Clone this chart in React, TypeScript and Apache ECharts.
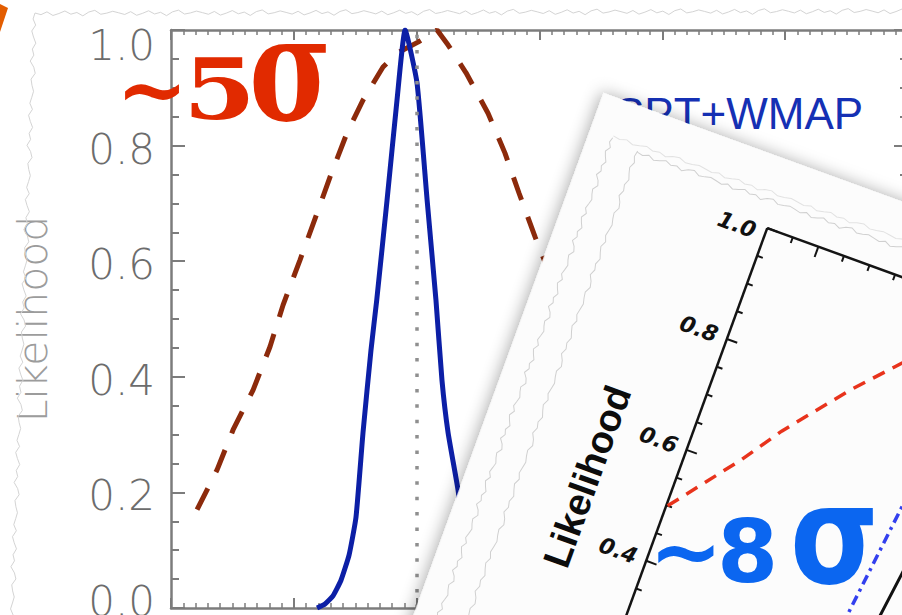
import React, { useEffect, useRef } from "react";
import * as echarts from "echarts";

// Main panel: SPT+WMAP likelihood (solid) and the broader constraint (dashed)
const sptWmapX = [1.189, 1.254, 1.319, 1.384, 1.45, 1.506, 1.563, 1.628, 1.675, 1.759, 1.84, 1.906, 2.003, 2.085, 2.157, 2.206, 2.256, 2.337, 2.4, 2.47, 2.56, 2.68];
const sptWmapY = [0, 0.007, 0.021, 0.048, 0.092, 0.157, 0.303, 0.446, 0.533, 0.706, 0.879, 1.0, 0.908, 0.706, 0.533, 0.394, 0.303, 0.204, 0.1, 0.035, 0.008, 0];

const broadX = [0.212, 0.375, 0.505, 0.668, 0.806, 0.912, 1.05, 1.189, 1.295, 1.433, 1.564, 1.726, 1.84, 2.011, 2.166, 2.256, 2.402, 2.581, 2.719, 2.833, 2.964, 3.167, 3.49];
const broadY = [0.17, 0.239, 0.308, 0.377, 0.452, 0.524, 0.602, 0.683, 0.746, 0.822, 0.879, 0.936, 0.96, 0.979, 1.0, 0.974, 0.926, 0.856, 0.787, 0.718, 0.642, 0.533, 0.36];

const referenceX = 2.0;

// Inset panel curves
const insetRedX = [-0.39, 0.0, 0.21, 0.58, 0.87, 1.3, 1.8];
const insetRedY = [0.5, 0.615, 0.685, 0.79, 0.863, 0.94, 0.99];
const insetBlueX = [0.95, 1.126, 1.228, 1.33, 1.45, 1.6];
const insetBlueY = [0.18, 0.43, 0.628, 0.8, 0.93, 1.0];
const insetBlackX = [1.25, 1.354, 1.4, 1.48, 1.6];
const insetBlackY = [0.25, 0.449, 0.529, 0.68, 0.85];

// Inset axes
const INSET_X_MIN = -0.4;
const INSET_X_MAX = 4;
const insetXMajor = [0, 1, 2, 3];
const insetXMinor = [-0.2, 0.2, 0.4, 0.6, 0.8, 1.2, 1.4, 1.6, 1.8, 2.2, 2.4, 2.6, 2.8, 3.2, 3.4, 3.6, 3.8];
const insetYMajor = [0, 0.2, 0.4, 0.6, 0.8, 1.0];
const insetYLabelValues = [0.4, 0.6, 0.8, 1.0];
const insetYLabels = ["0.4", "0.6", "0.8", "1.0"];
const insetYMinor = [0.05, 0.1, 0.15, 0.25, 0.3, 0.35, 0.45, 0.5, 0.55, 0.65, 0.7, 0.75, 0.85, 0.9, 0.95];

const INSET_TILT = (20 * Math.PI) / 180;
const AX = "#7c7c7c";
const JITTER = [0, 1.2, -0.8, 1.8, 0.4, -1.4, 0.9, -0.3, 2.1, -0.6, -1.8, 1.0, 0.2, -1.1];

function zip(xs: number[], ys: number[]) {
  return xs.map((x, i) => [x, ys[i]]);
}

function ragged(x1: number, y1: number, x2: number, y2: number, step = 5, amp = 1) {
  const len = Math.hypot(x2 - x1, y2 - y1);
  const n = Math.max(2, Math.round(len / step));
  const nx = -(y2 - y1) / len;
  const ny = (x2 - x1) / len;
  const pts: number[][] = [];
  for (let i = 0; i <= n; i++) {
    const t = i / n;
    const j = JITTER[i % JITTER.length] * amp;
    pts.push([x1 + (x2 - x1) * t + nx * j, y1 + (y2 - y1) * t + ny * j]);
  }
  return pts;
}

function renderInset(params: any, api: any) {
  const pt = (x: number, y: number) => api.coord([x, y]);
  const [ox, oy] = pt(INSET_X_MIN, 1);
  const y0 = pt(INSET_X_MIN, 0)[1];
  const xEnd = pt(INSET_X_MAX, 1)[0];
  const children: any[] = [];

  // sheet of paper with its shadow
  children.push({
    type: "polygon",
    shape: { points: [[ox - 200, oy - 71], [ox + 1400, oy - 71], [ox + 1400, oy + 1400], [ox - 200, oy + 1400]] },
    style: { fill: "#fcfcfc", shadowBlur: 16, shadowColor: "rgba(0,0,0,0.32)", shadowOffsetX: -2 },
  });
  // torn-edge lines on the sheet
  const edge = { stroke: "#d0d0d0", lineWidth: 1, fill: null };
  children.push({ type: "polyline", shape: { points: ragged(ox - 176, oy - 32, ox - 176, oy + 1000, 5, 1.3) }, style: edge });
  children.push({ type: "polyline", shape: { points: ragged(ox - 148, oy - 28, ox - 148, oy + 1000, 6, 1.1) }, style: edge });
  children.push({ type: "polyline", shape: { points: ragged(ox - 148, oy - 27, ox + 1200, oy - 27, 6, 1.2) }, style: edge });
  children.push({ type: "polyline", shape: { points: ragged(ox - 176, oy - 34, ox + 1200, oy - 40, 7, 1.0) }, style: { ...edge, stroke: "#e2e2e2" } });

  // axes
  const axStyle = { stroke: "#141414", lineWidth: 2.5 };
  children.push({ type: "line", shape: { x1: ox, y1: oy, x2: xEnd, y2: oy }, style: axStyle });
  children.push({ type: "line", shape: { x1: ox, y1: oy, x2: ox, y2: y0 }, style: axStyle });

  const tickStyle = { stroke: "#141414", lineWidth: 2 };
  insetYMajor.forEach((v) => {
    const y = pt(INSET_X_MIN, v)[1];
    children.push({ type: "line", shape: { x1: ox, y1: y, x2: ox + 11, y2: y }, style: tickStyle });
  });
  insetYMinor.forEach((v) => {
    const y = pt(INSET_X_MIN, v)[1];
    children.push({ type: "line", shape: { x1: ox, y1: y, x2: ox + 6, y2: y }, style: tickStyle });
  });
  insetXMajor.forEach((v) => {
    const x = pt(v, 1)[0];
    children.push({ type: "line", shape: { x1: x, y1: oy, x2: x, y2: oy + 11 }, style: tickStyle });
  });
  insetXMinor.forEach((v) => {
    const x = pt(v, 1)[0];
    children.push({ type: "line", shape: { x1: x, y1: oy, x2: x, y2: oy + 6 }, style: tickStyle });
  });

  insetYLabelValues.forEach((v, i) => {
    const y = pt(INSET_X_MIN, v)[1] + (v >= 1 ? 7 : 0);
    children.push({
      type: "text",
      x: ox - 10,
      y,
      style: {
        text: insetYLabels[i],
        fill: "#111",
        font: 'italic bold 22px "DejaVu Sans"',
        align: "right",
        verticalAlign: "middle",
      },
    });
  });

  children.push({
    type: "text",
    x: ox - 84,
    y: (oy + y0) / 2,
    rotation: Math.PI / 2,
    style: {
      text: "Likelihood",
      fill: "#0c0c0c",
      font: 'bold 38px "Liberation Sans"',
      align: "center",
      verticalAlign: "middle",
    },
  });

  const curve = (xs: number[], ys: number[], style: any) => ({
    type: "polyline",
    shape: { points: xs.map((x, i) => pt(x, ys[i])) },
    style: { fill: null, lineCap: "butt", ...style },
  });
  children.push(curve(insetRedX, insetRedY, { stroke: "#e8331c", lineWidth: 3.5, lineDash: [13, 9] }));
  children.push(curve(insetBlueX, insetBlueY, { stroke: "#3340ee", lineWidth: 3.5, lineDash: [10, 5, 3, 5] }));
  children.push(curve(insetBlackX, insetBlackY, { stroke: "#111", lineWidth: 3 }));

  return { type: "group", rotation: -INSET_TILT, originX: ox, originY: oy, children };
}

function mainAxisX(position: "bottom" | "top") {
  return {
    gridIndex: 0,
    type: "value",
    position,
    min: 0,
    max: 6,
    interval: 1,
    axisLine: { show: true, onZero: false, lineStyle: { color: AX, width: 2.5 } },
    axisTick: { show: true, inside: true, length: 10, lineStyle: { color: AX, width: 2 } },
    minorTick: { show: true, splitNumber: 10, length: 5, lineStyle: { color: AX, width: 1.5 } },
    axisLabel: { show: false },
    splitLine: { show: false },
  };
}

const labelFont = { fontSize: 42, fontFamily: "DejaVu Sans", fontWeight: 300, color: "#6c6c6c" };

// big annotation glyphs; the sigma is stretched upward from its baseline
function glyph(text: string, x: number, baseline: number, font: string, size: number, fill: string, sx = 1, sy = 1) {
  const mid = 0.346 * size;
  return {
    type: "text",
    z: 100,
    x,
    y: baseline - mid,
    originX: 0,
    originY: mid,
    scaleX: sx,
    scaleY: sy,
    style: {
      text,
      fill,
      font: `bold ${size}px "${font}"`,
      lineHeight: Math.round(size * 0.6),
      verticalAlign: "middle",
    },
  };
}

export default function App() {
  const ref = useRef<HTMLDivElement>(null);

  useEffect(() => {
    if (!ref.current) return;
    const chart = echarts.init(ref.current, undefined, { renderer: "svg" });
    const option: any = {
      animation: false,
      backgroundColor: "#ffffff",
      grid: [
        { left: 171, top: 30, width: 737, height: 578, outerBoundsMode: "none", containLabel: false },
        {
          left: 767,
          top: 228,
          width: (INSET_X_MAX - INSET_X_MIN) * 136,
          height: 590,
          outerBoundsMode: "none",
          containLabel: false,
        },
      ],
      xAxis: [
        mainAxisX("bottom"),
        mainAxisX("top"),
        { gridIndex: 1, type: "value", min: INSET_X_MIN, max: INSET_X_MAX, show: false },
      ],
      yAxis: [
        {
          gridIndex: 0,
          type: "value",
          position: "left",
          min: 0,
          max: 1,
          interval: 0.2,
          name: "Likelihood",
          nameLocation: "middle",
          nameGap: 118,
          nameTextStyle: { fontSize: 41, fontFamily: "DejaVu Sans", fontWeight: 300, color: "#9c9c9c" },
          axisLine: { show: true, onZero: false, lineStyle: { color: AX, width: 2.5 } },
          axisTick: { show: true, inside: true, length: 14, lineStyle: { color: AX, width: 2 } },
          minorTick: { show: true, splitNumber: 4, length: 8, lineStyle: { color: AX, width: 2 } },
          splitLine: { show: false },
          axisLabel: {
            margin: 16,
            ...labelFont,
            formatter: (v: number) => {
              const s = v.toFixed(1);
              if (v >= 1) return `{top|${s}}`;
              if (v <= 0) return `{bot|${s}}`;
              return `{mid|${s}}`;
            },
            rich: {
              top: { ...labelFont, padding: [30, 0, 0, 0] },
              mid: { ...labelFont, padding: [7, 0, 0, 0] },
              bot: { ...labelFont, padding: [0, 0, 14, 0] },
            },
          },
        },
        {
          gridIndex: 0,
          type: "value",
          position: "right",
          min: 0,
          max: 1,
          interval: 0.2,
          axisLine: { show: true, onZero: false, lineStyle: { color: AX, width: 2.5 } },
          axisTick: { show: true, inside: true, length: 14, lineStyle: { color: AX, width: 2 } },
          minorTick: { show: true, splitNumber: 4, length: 8, lineStyle: { color: AX, width: 2 } },
          splitLine: { show: false },
          axisLabel: { show: false },
        },
        { gridIndex: 1, type: "value", min: 0, max: 1, show: false },
      ],
      series: [
        {
          name: "Broad constraint",
          type: "line",
          xAxisIndex: 0,
          yAxisIndex: 0,
          data: zip(broadX, broadY),
          showSymbol: false,
          symbol: "none",
          lineStyle: { color: "#8c2a0b", width: 5, type: [24, 18], cap: "butt" },
          markLine: {
            silent: true,
            symbol: "none",
            label: { show: false },
            lineStyle: { color: "#8f8f8f", width: 3.5, type: [3.5, 11.9] },
            data: [{ xAxis: referenceX }],
          },
          z: 3,
        },
        {
          name: "SPT+WMAP",
          type: "line",
          xAxisIndex: 0,
          yAxisIndex: 0,
          data: zip(sptWmapX, sptWmapY),
          showSymbol: false,
          symbol: "none",
          smooth: 0.15,
          lineStyle: { color: "#0c1fa6", width: 5, join: "round" },
          z: 4,
        },
        {
          name: "inset",
          type: "custom",
          coordinateSystem: "cartesian2d",
          xAxisIndex: 2,
          yAxisIndex: 2,
          clip: false,
          silent: true,
          z: 10,
          data: [[INSET_X_MIN, 1]],
          renderItem: renderInset,
        },
      ],
      graphic: [
        { type: "polyline", z: 1, shape: { points: ragged(35, 13, 902, 11, 6, 1.4) }, style: { stroke: "#d4d4d4", lineWidth: 1, fill: null } },
        { type: "polyline", z: 1, shape: { points: ragged(35, 13, 12, 615, 6, 1.4) }, style: { stroke: "#d4d4d4", lineWidth: 1, fill: null } },
        { type: "polygon", z: 1, shape: { points: [[0, 4], [8, 8], [0, 32]] }, style: { fill: "#e35d00" } },
        {
          type: "text",
          z: 1,
          x: 615,
          y: 113,
          style: { text: "SPT+WMAP", fill: "#1530b4", font: '44px "Liberation Sans"', verticalAlign: "middle" },
        },
        // ~5σ
        glyph("~", 116, 118, "DejaVu Serif", 86, "#e12a00"),
        glyph("5", 183, 118, "DejaVu Serif", 84, "#e12a00", 1.25, 1),
        glyph("σ", 249, 119, "DejaVu Serif", 112, "#e12a00", 1, 1.3),
        // ~8σ
        glyph("~", 649, 582, "DejaVu Sans", 88, "#0b66f0"),
        glyph("8", 717, 582, "DejaVu Sans", 88, "#0b66f0"),
        glyph("σ", 790, 583, "DejaVu Sans", 114, "#0b66f0", 1, 1.2),
      ],
    };
    chart.setOption(option);
    return () => chart.dispose();
  }, []);

  return <div ref={ref} style={{ position: "fixed", left: 0, top: 0, width: 902, height: 615, background: "#fff" }} />;
}
